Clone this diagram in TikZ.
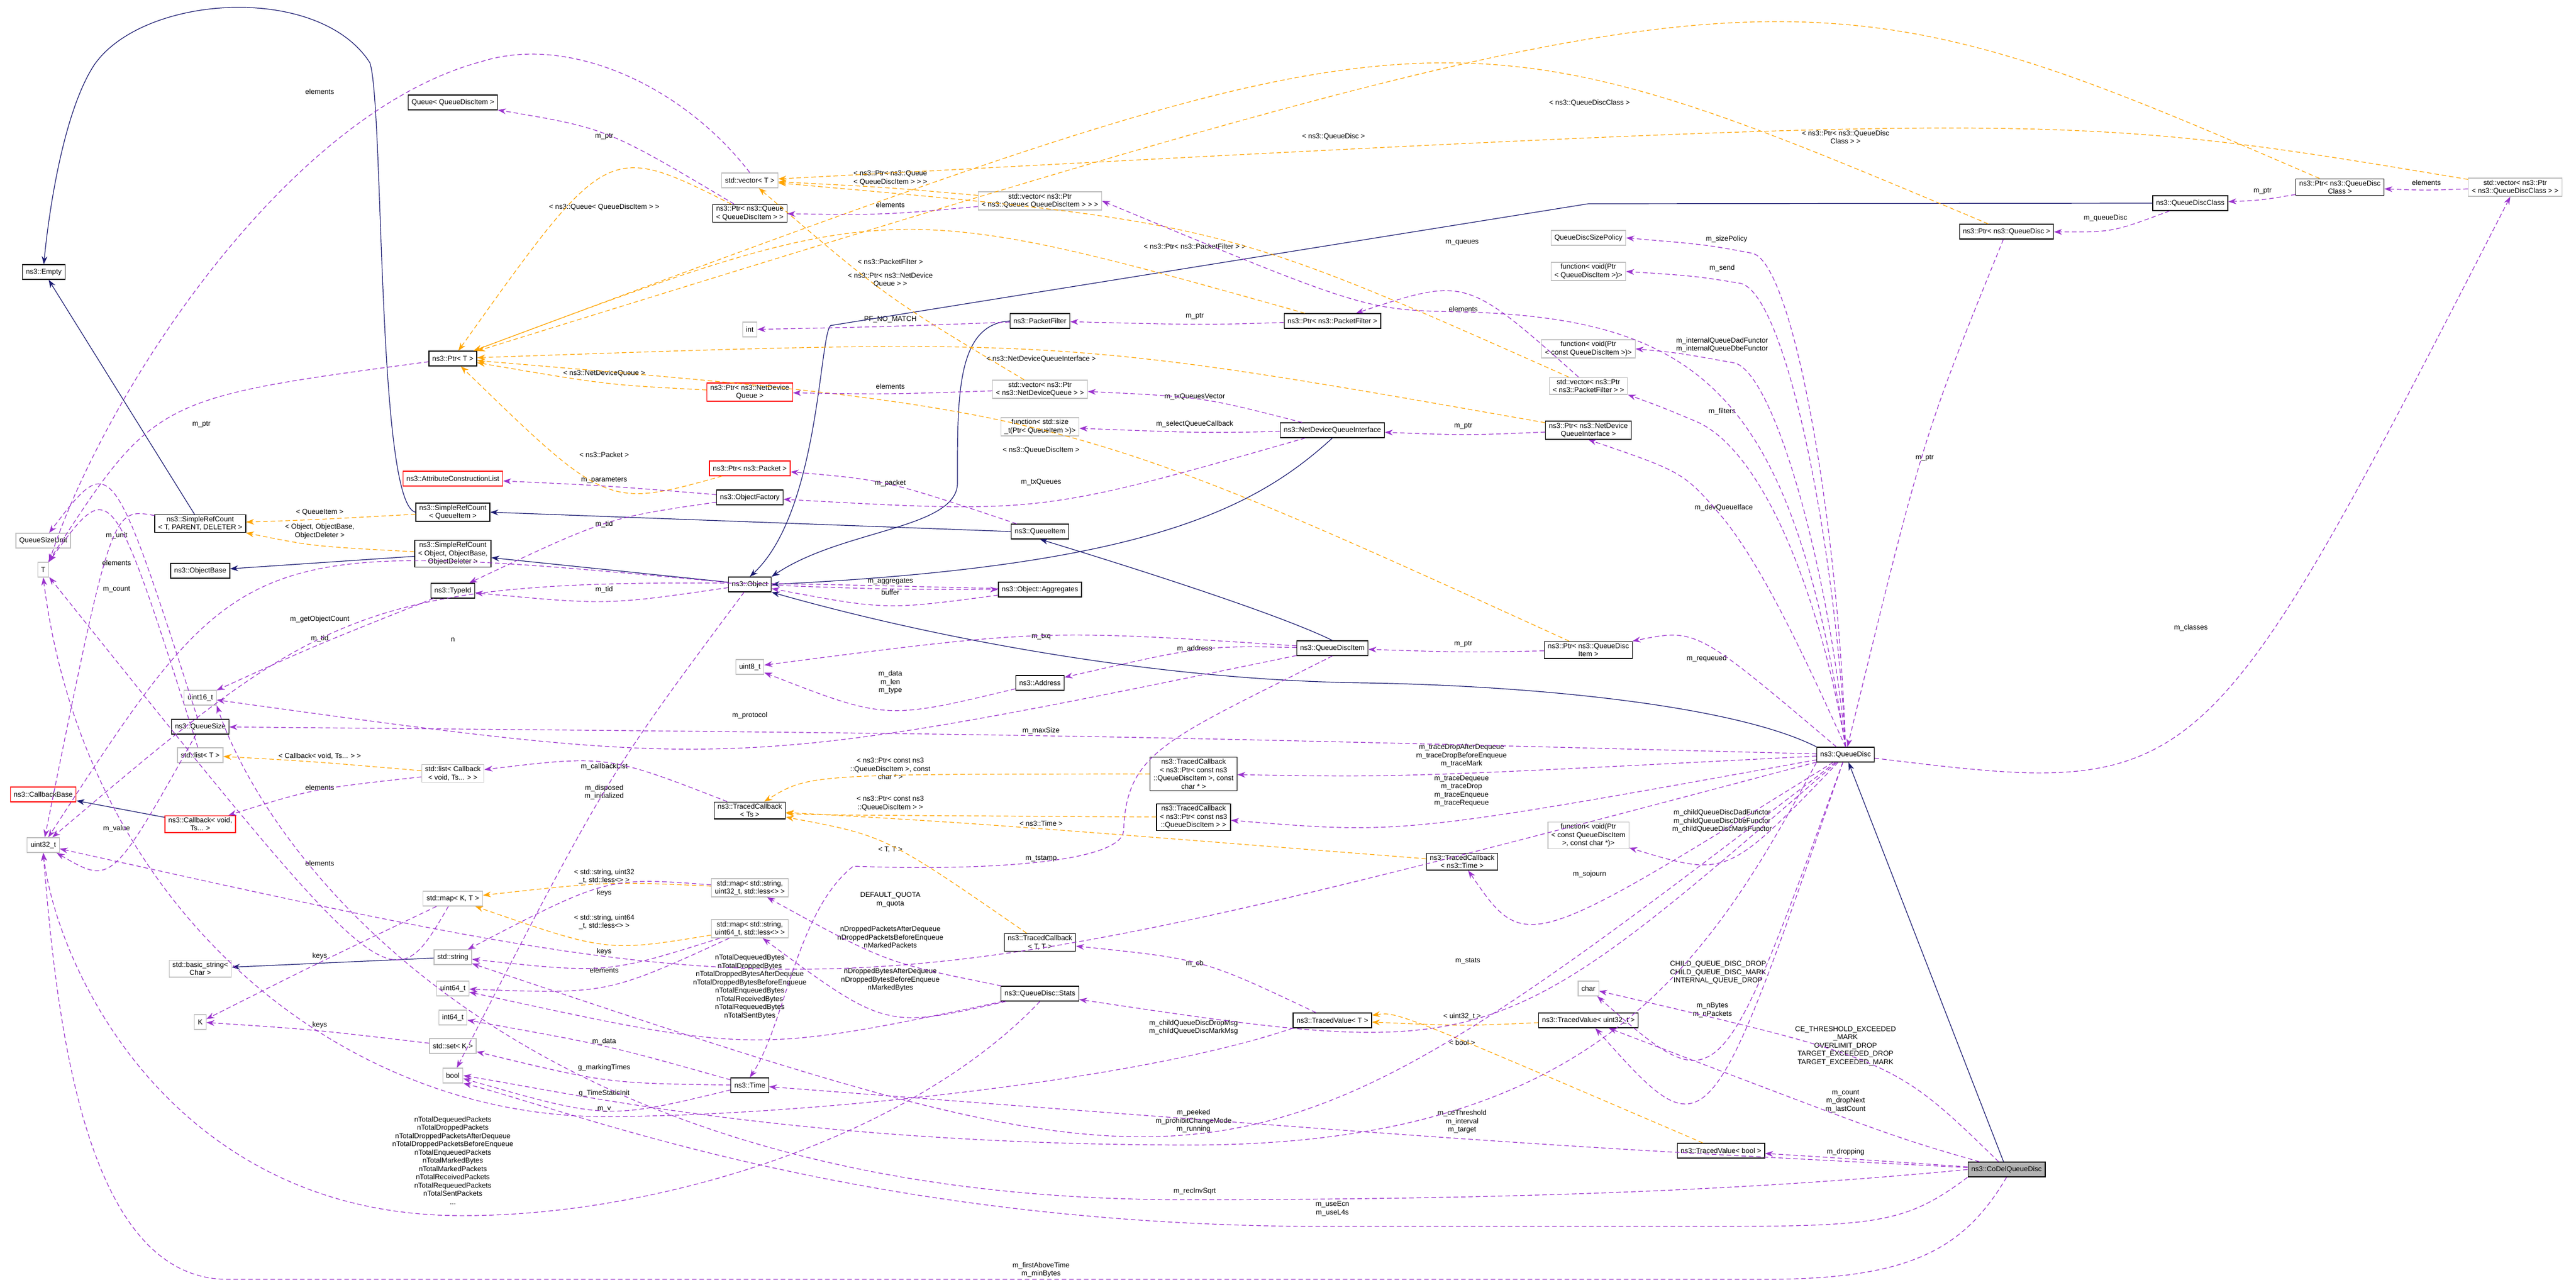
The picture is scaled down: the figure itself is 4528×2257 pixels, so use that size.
\documentclass[tikz,border=0pt]{standalone}
\usepackage{fontspec}
\setmainfont{Liberation Sans}
\usetikzlibrary{calc,arrows.meta}
\definecolor{mem}{RGB}{154,50,205}
\definecolor{tpl}{RGB}{255,165,0}
\definecolor{inhc}{RGB}{25,25,112}
\newcommand{\lk}[4][memb]{%
  \path (#3.south) ++(0,5) coordinate (tmpv);
  \draw[#1] (#2) .. controls ($2*(tmpv)-0.5*(#2)-0.5*(#4)$) .. (#4);}
\begin{document}
\begin{tikzpicture}[x=1pt,y=-1pt,
  every node/.style={font=\fontsize{12.5}{14.5}\selectfont},
  box/.style={draw=black,line width=1.3pt,fill=white,inner xsep=6pt,inner ysep=3pt,minimum height=26pt,align=center},
  gbox/.style={box,draw=black!25},
  rbox/.style={box,draw=red},
  lab/.style={align=center,inner sep=1pt},
  memb/.style={draw=mem,line width=1.2pt,dash pattern=on 8pt off 5pt,-{Stealth[length=14pt,width=10pt]}},
  tmpl/.style={draw=tpl,line width=1.2pt,dash pattern=on 8pt off 5pt,-{Stealth[length=14pt,width=10pt]}},
  inh/.style={draw=inhc,line width=1.2pt,-{Stealth[length=14pt,width=10pt]}}]
\useasboundingbox[fill=white] (0,0) rectangle (4528,2257);
% ---- nodes
\node[box] (empty) at (77,478) {ns3::Empty};
\node[box] (qqdi) at (796,180) {Queue< QueueDiscItem >};
\node[gbox] (vecT) at (1318,317) {std::vector< T >};
\node[box] (pqueue) at (1318,375) {ns3::Ptr< ns3::Queue\\< QueueDiscItem > >};
\node[gbox] (intn) at (1318,579) {int};
\node[box] (ptrT) at (796,630) {ns3::Ptr< T >};
\node[rbox] (pndq) at (1318,689) {ns3::Ptr< ns3::NetDevice\\Queue >};
\node[rbox] (ppkt) at (1318,823) {ns3::Ptr< ns3::Packet >};
\node[rbox] (acl) at (796,841) {ns3::AttributeConstructionList};
\node[box] (ofac) at (1318,874) {ns3::ObjectFactory};
\node[box] (srcqi) at (796,900) {ns3::SimpleRefCount\\< QueueItem >};
\node[box] (srctpd) at (352,920) {ns3::SimpleRefCount\\< T, PARENT, DELETER >};
\node[gbox] (qsu) at (76,950) {QueueSizeUnit};
\node[gbox] (Tn) at (76,1001) {T};
\node[box] (obase) at (352,1003) {ns3::ObjectBase};
\node[box] (srcobj) at (796,973) {ns3::SimpleRefCount\\< Object, ObjectBase,\\ObjectDeleter >};
\node[box] (tid) at (796,1038) {ns3::TypeId};
\node[box] (obj) at (1318,1027) {ns3::Object};
\node[gbox] (u8) at (1318,1172) {uint8\_t};
\node[gbox] (u16) at (352,1226) {uint16\_t};
\node[box] (qsize) at (352,1277) {ns3::QueueSize};
\node[gbox] (listT) at (352,1327) {std::list< T >};
\node[gbox] (listcb) at (796,1359) {std::list< Callback\\< void, Ts... > >};
\node[rbox] (cbbase) at (76,1396) {ns3::CallbackBase};
\node[rbox] (cb) at (352,1448) {ns3::Callback< void,\\Ts... >};
\node[gbox] (u32) at (76,1485) {uint32\_t};
\node[box] (tcts) at (1318,1424) {ns3::TracedCallback\\< Ts >};
\node[gbox] (mapKT) at (796,1579) {std::map< K, T >};
\node[gbox] (mapu32) at (1318,1560) {std::map< std::string,\\uint32\_t, std::less<> >};
\node[gbox] (mapu64) at (1318,1632) {std::map< std::string,\\uint64\_t, std::less<> >};
\node[gbox] (bstr) at (352,1702) {std::basic\_string<\\Char >};
\node[gbox] (str) at (796,1682) {std::string};
\node[gbox] (u64) at (796,1737) {uint64\_t};
\node[gbox] (K) at (352,1796) {K};
\node[gbox] (i64) at (796,1788) {int64\_t};
\node[gbox] (setK) at (796,1838) {std::set< K >};
\node[gbox] (booln) at (796,1890) {bool};
\node[box] (time) at (1318,1907) {ns3::Time};
\node[gbox] (vecpq) at (1828,353) {std::vector< ns3::Ptr\\< ns3::Queue< QueueDiscItem > > >};
\node[gbox] (qdsp) at (2792,418) {QueueDiscSizePolicy};
\node[gbox] (fnsend) at (2792,477) {function< void(Ptr\\< QueueDiscItem >)>};
\node[box] (pf) at (1828,564) {ns3::PacketFilter};
\node[box] (ppf) at (2342,564) {ns3::Ptr< ns3::PacketFilter >};
\node[gbox] (fnconst) at (2792,613) {function< void(Ptr\\< const QueueDiscItem >)>};
\node[gbox] (vecpf) at (2792,678) {std::vector< ns3::Ptr\\< ns3::PacketFilter > >};
\node[gbox] (vecndq) at (1828,684) {std::vector< ns3::Ptr\\< ns3::NetDeviceQueue > >};
\node[gbox] (fnsize) at (1828,750) {function< std::size\\\_t(Ptr< QueueItem >)>};
\node[box] (ndqi) at (2342,756) {ns3::NetDeviceQueueInterface};
\node[box] (pndqi) at (2792,756) {ns3::Ptr< ns3::NetDevice\\QueueInterface >};
\node[box] (qi) at (1828,934) {ns3::QueueItem};
\node[box] (aggr) at (1828,1036) {ns3::Object::Aggregates};
\node[box] (qdi) at (2342,1139) {ns3::QueueDiscItem};
\node[box] (pqdi) at (2792,1142) {ns3::Ptr< ns3::QueueDisc\\Item >};
\node[box] (addr) at (1828,1200) {ns3::Address};
\node[box] (tcpc) at (2098,1360) {ns3::TracedCallback\\< ns3::Ptr< const ns3\\::QueueDiscItem >, const\\char * >};
\node[box] (tcp) at (2098,1436) {ns3::TracedCallback\\< ns3::Ptr< const ns3\\::QueueDiscItem > >};
\node[gbox] (fnchar) at (2792,1468) {function< void(Ptr\\< const QueueDiscItem\\>, const char *)>};
\node[box] (tctime) at (2570,1514) {ns3::TracedCallback\\< ns3::Time >};
\node[box] (tctt) at (1828,1656) {ns3::TracedCallback\\< T, T >};
\node[box] (stats) at (1828,1746) {ns3::QueueDisc::Stats};
\node[gbox] (charn) at (2792,1737) {char};
\node[box] (tvT) at (2342,1793) {ns3::TracedValue< T >};
\node[box] (tvu32) at (2792,1793) {ns3::TracedValue< uint32\_t >};
\node[box] (tvbool) at (3025,2022) {ns3::TracedValue< bool >};
\node[box] (pqdc) at (4113,329) {ns3::Ptr< ns3::QueueDisc\\Class >};
\node[box] (qdc) at (3850,357) {ns3::QueueDiscClass};
\node[gbox] (vecqdc) at (4421,329) {std::vector< ns3::Ptr\\< ns3::QueueDiscClass > >};
\node[box] (pqd) at (3527,407) {ns3::Ptr< ns3::QueueDisc >};
\node[box] (qd) at (3244,1326) {ns3::QueueDisc};
\node[box,fill=black!30] (codel) at (3527,2055) {ns3::CoDelQueueDisc};
% ---- labels
\node[lab] (l1) at (562,161) {elements};
\node[lab] (l2) at (1062,240) {m\_ptr};
\node[lab] (l3) at (1565,360) {elements};
\node[lab] (l4) at (354,746) {m\_ptr};
\node[lab] (l5) at (1565,679) {elements};
\node[lab] (l6) at (1565,849) {m\_packet};
\node[lab] (l7) at (1062,844) {m\_parameters};
\node[lab] (l8) at (1830,847) {m\_txQueues};
\node[lab] (l9) at (1062,921) {m\_tid};
\node[lab] (l10) at (1062,1036) {m\_tid};
\node[lab] (l11) at (1565,1022) {m\_aggregates};
\node[lab] (l12) at (1565,1041) {buffer};
\node[lab] (l13) at (796,1124) {n};
\node[lab] (l14) at (562,1088) {m\_getObjectCount};
\node[lab] (l15) at (562,1122) {m\_tid};
\node[lab] (l16) at (1565,561) {PF\_NO\_MATCH};
\node[lab] (l17) at (2100,556) {m\_ptr};
\node[lab] (l18) at (2572,543) {elements};
\node[lab] (l19) at (2100,697) {m\_txQueuesVector};
\node[lab] (l20) at (2100,745) {m\_selectQueueCallback};
\node[lab] (l21) at (2572,749) {m\_ptr};
\node[lab] (l22) at (3035,420) {m\_sizePolicy};
\node[lab] (l23) at (3027,471) {m\_send};
\node[lab] (l24) at (3027,606) {m\_internalQueueDadFunctor\\m\_internalQueueDbeFunctor};
\node[lab] (l25) at (3027,723) {m\_filters};
\node[lab] (l26) at (2570,426) {m\_queues};
\node[lab] (l27) at (3030,892) {m\_devQueueIface};
\node[lab] (l28) at (3000,1157) {m\_requeued};
\node[lab] (l29) at (2572,1132) {m\_ptr};
\node[lab] (l30) at (1830,1119) {m\_txq};
\node[lab] (l31) at (2100,1140) {m\_address};
\node[lab] (l32) at (1565,1199) {m\_data\\m\_len\\m\_type};
\node[lab] (l33) at (1318,1257) {m\_protocol};
\node[lab] (l34) at (1830,1509) {m\_tstamp};
\node[lab] (l35) at (1830,1284) {m\_maxSize};
\node[lab] (l36) at (205,941) {m\_unit};
\node[lab] (l37) at (205,1456) {m\_value};
\node[lab] (l38) at (205,1036) {m\_count};
\node[lab] (l39) at (205,989) {elements};
\node[lab] (l40) at (562,1384) {elements};
\node[lab] (l41) at (1062,1347) {m\_callbackList};
\node[lab] (l42) at (1062,1392) {m\_disposed\\m\_initialized};
\node[lab] (l43) at (562,1517) {elements};
\node[lab] (l44) at (562,1680) {keys};
\node[lab] (l45) at (562,1801) {keys};
\node[lab] (l46) at (1062,1569) {keys};
\node[lab] (l47) at (1062,1672) {keys};
\node[lab] (l48) at (1062,1705) {elements};
\node[lab] (l49) at (1318,1734) {nTotalDequeuedBytes\\nTotalDroppedBytes\\nTotalDroppedBytesAfterDequeue\\nTotalDroppedBytesBeforeEnqueue\\nTotalEnqueuedBytes\\nTotalReceivedBytes\\nTotalRequeuedBytes\\nTotalSentBytes};
\node[lab] (l50) at (796,2039) {nTotalDequeuedPackets\\nTotalDroppedPackets\\nTotalDroppedPacketsAfterDequeue\\nTotalDroppedPacketsBeforeEnqueue\\nTotalEnqueuedPackets\\nTotalMarkedBytes\\nTotalMarkedPackets\\nTotalReceivedPackets\\nTotalRequeuedPackets\\nTotalSentPackets\\...};
\node[lab] (l51) at (1565,1647) {nDroppedPacketsAfterDequeue\\nDroppedPacketsBeforeEnqueue\\nMarkedPackets};
\node[lab] (l52) at (1565,1722) {nDroppedBytesAfterDequeue\\nDroppedBytesBeforeEnqueue\\nMarkedBytes};
\node[lab] (l53) at (2580,1689) {m\_stats};
\node[lab] (l54) at (1565,1581) {DEFAULT\_QUOTA\\m\_quota};
\node[lab] (l55) at (2569,1328) {m\_traceDropAfterDequeue\\m\_traceDropBeforeEnqueue\\m\_traceMark};
\node[lab] (l56) at (2569,1390) {m\_traceDequeue\\m\_traceDrop\\m\_traceEnqueue\\m\_traceRequeue};
\node[lab] (l57) at (3027,1443) {m\_childQueueDiscDadFunctor\\m\_childQueueDiscDbeFunctor\\m\_childQueueDiscMarkFunctor};
\node[lab] (l58) at (2794,1536) {m\_sojourn};
\node[lab] (l59) at (3020,1709) {CHILD\_QUEUE\_DISC\_DROP\\CHILD\_QUEUE\_DISC\_MARK\\INTERNAL\_QUEUE\_DROP};
\node[lab] (l60) at (3010,1775) {m\_nBytes\\m\_nPackets};
\node[lab] (l61) at (2098,1805) {m\_childQueueDiscDropMsg\\m\_childQueueDiscMarkMsg};
\node[lab] (l62) at (2098,1970) {m\_peeked\\m\_prohibitChangeMode\\m\_running};
\node[lab] (l63) at (3383,805) {m\_ptr};
\node[lab] (l64) at (3701,383) {m\_queueDisc};
\node[lab] (l65) at (3977,336) {m\_ptr};
\node[lab] (l66) at (4265,321) {elements};
\node[lab] (l67) at (3851,1103) {m\_classes};
\node[lab] (l68) at (2100,1693) {m\_cb};
\node[lab] (l69) at (1062,1949) {m\_v};
\node[lab] (l70) at (1062,1830) {m\_data};
\node[lab] (l71) at (1062,1876) {g\_markingTimes};
\node[lab] (l72) at (1062,1921) {g\_TimeStaticInit};
\node[lab] (l73) at (2570,1971) {m\_ceThreshold\\m\_interval\\m\_target};
\node[lab] (l74) at (3244,1935) {m\_count\\m\_dropNext\\m\_lastCount};
\node[lab] (l75) at (3244,1838) {CE\_THRESHOLD\_EXCEEDED\\\_MARK\\OVERLIMIT\_DROP\\TARGET\_EXCEEDED\_DROP\\TARGET\_EXCEEDED\_MARK};
\node[lab] (l76) at (3244,2024) {m\_dropping};
\node[lab] (l77) at (2100,2093) {m\_recInvSqrt};
\node[lab] (l78) at (2342,2124) {m\_useEcn\\m\_useL4s};
\node[lab] (l79) at (1830,2231) {m\_firstAboveTime\\m\_minBytes};
% template labels
\node[lab] (t1) at (1062,364) {< ns3::Queue< QueueDiscItem > >};
\node[lab] (t2) at (1062,656) {< ns3::NetDeviceQueue >};
\node[lab] (t3) at (1062,799) {< ns3::Packet >};
\node[lab] (t4) at (1565,460) {< ns3::PacketFilter >};
\node[lab] (t5) at (1830,631) {< ns3::NetDeviceQueueInterface >};
\node[lab] (t6) at (1830,791) {< ns3::QueueDiscItem >};
\node[lab] (t7) at (2344,240) {< ns3::QueueDisc >};
\node[lab] (t8) at (2794,181) {< ns3::QueueDiscClass >};
\node[lab] (t9) at (1565,313) {< ns3::Ptr< ns3::Queue\\< QueueDiscItem > > >};
\node[lab] (t10) at (1565,492) {< ns3::Ptr< ns3::NetDevice\\Queue > >};
\node[lab] (t11) at (2100,433) {< ns3::Ptr< ns3::PacketFilter > >};
\node[lab] (t12) at (3244,241) {< ns3::Ptr< ns3::QueueDisc\\Class > >};
\node[lab] (t13) at (562,900) {< QueueItem >};
\node[lab] (t14) at (562,934) {< Object, ObjectBase,\\ObjectDeleter >};
\node[lab] (t15) at (562,1329) {< Callback< void, Ts... > >};
\node[lab] (t16) at (1062,1540) {< std::string, uint32\\\_t, std::less<> >};
\node[lab] (t17) at (1062,1620) {< std::string, uint64\\\_t, std::less<> >};
\node[lab] (t18) at (1565,1351) {< ns3::Ptr< const ns3\\::QueueDiscItem >, const\\char * >};
\node[lab] (t19) at (1565,1412) {< ns3::Ptr< const ns3\\::QueueDiscItem > >};
\node[lab] (t20) at (1830,1447) {< ns3::Time >};
\node[lab] (t21) at (1565,1493) {< T, T >};
\node[lab] (t22) at (2570,1786) {< uint32\_t >};
\node[lab] (t23) at (2570,1832) {< bool >};
% ---- inheritance
\draw[inh] (srctpd) -- (empty);
\draw[inh] (srcqi.west) .. controls (662,885) and (675,180) .. (650,110) .. controls (560,-30) and (250,-10) .. (165,115) .. controls (110,200) and (85,380) .. (empty.north);
\draw[inh] (srcobj) -- (obase);
\draw[inh] (obj) -- (srcobj);
\draw[inh] (qi.west) -- (srcqi.east);
\draw[inh] (qdc.west) -- (2792,358) -- (1460,572) .. controls (1440,590) and (1440,900) .. (obj.north);
\draw[inh] (pf.west) .. controls (1680,570) and (1683,700) .. (1683,850) .. controls (1680,930) and (1480,930) .. (obj.north east);
\draw[inh] (ndqi.south) .. controls (2200,900) and (2000,995) .. (obj.east);
\draw[inh] (qdi.north) .. controls (2250,1080) and (2000,1000) .. (qi.south);
\draw[inh] (qd.north west) .. controls (3050,1240) and (2700,1205) .. (2400,1200) .. controls (2000,1195) and (1600,1110) .. (obj.south east);
\draw[inh] (codel) -- (qd);
\draw[inh] (cb) -- (cbbase);
\draw[inh] (str) -- (bstr);
% ---- templates
\lk[tmpl]{pqueue}{t1}{ptrT}
\lk[tmpl]{pndq}{t2}{ptrT}
\lk[tmpl]{ppkt}{t3}{ptrT}
\lk[tmpl]{ppf}{t4}{ptrT}
\lk[tmpl]{pndqi}{t5}{ptrT}
\lk[tmpl]{pqdi}{t6}{ptrT}
\lk[tmpl]{pqd}{t7}{ptrT}
\lk[tmpl]{pqdc}{t8}{ptrT}
\lk[tmpl]{vecpq}{t9}{vecT}
\lk[tmpl]{vecndq}{t10}{vecT}
\lk[tmpl]{vecpf}{t11}{vecT}
\lk[tmpl]{vecqdc}{t12}{vecT}
\lk[tmpl]{srcqi}{t13}{srctpd}
\lk[tmpl]{srcobj}{t14}{srctpd}
\lk[tmpl]{listcb}{t15}{listT}
\lk[tmpl]{mapu32}{t16}{mapKT}
\lk[tmpl]{mapu64}{t17}{mapKT}
\lk[tmpl]{tcpc}{t18}{tcts}
\lk[tmpl]{tcp}{t19}{tcts}
\lk[tmpl]{tctime}{t20}{tcts}
\lk[tmpl]{tctt}{t21}{tcts}
\lk[tmpl]{tvu32}{t22}{tvT}
\lk[tmpl]{tvbool}{t23}{tvT}
% ---- members
\draw[memb] (vecT.north) .. controls (1200,150) and (1000,60) .. (847,108) .. controls (500,200) and (180,700) .. (Tn.north east);
\lk{pqueue}{l2}{qqdi}
\lk{vecpq}{l3}{pqueue}
\lk{ptrT}{l4}{Tn}
\lk{vecndq}{l5}{pndq}
\lk{qi}{l6}{ppkt}
\lk{ofac}{l7}{acl}
\lk{ndqi}{l8}{ofac}
\lk{ofac}{l9}{tid}
\lk{obj}{l10}{tid}
\lk{obj}{l11}{aggr}
\lk{aggr}{l12}{obj}
\lk{aggr}{l13}{u32}
\lk{obj}{l14}{u32}
\lk{tid}{l15}{u16}
\lk{pf}{l16}{intn}
\lk{ppf}{l17}{pf}
\lk{vecpf}{l18}{ppf}
\lk{ndqi}{l19}{vecndq}
\lk{ndqi}{l20}{fnsize}
\lk{pndqi}{l21}{ndqi}
\draw[memb] (qd.north) .. controls (3230,900) and (3150,460) .. (3080,445) .. controls (3000,430) .. (qdsp.east);
\draw[memb] (qd.north) .. controls (3225,950) and (3140,520) .. (3060,498) .. controls (2980,485) .. (fnsend.east);
\draw[memb] (qd.north) .. controls (3215,1000) and (3120,660) .. (3050,638) .. controls (2950,620) .. (fnconst.east);
\draw[memb] (qd.north) .. controls (3200,1050) and (3100,790) .. (2980,740) .. controls (2920,715) .. (vecpf.south east);
\draw[memb] (qd.north) .. controls (3170,1150) and (3100,1000) .. (3030,912) .. controls (2960,830) .. (pndqi.south);
\draw[memb] (qd.north) .. controls (3150,700) and (3000,560) .. (2570,548) .. controls (2400,545) .. (vecpq.east);
\lk{qd}{l28}{pqdi}
\lk{pqdi}{l29}{qdi}
\lk{qdi}{l30}{u8}
\lk{qdi}{l31}{addr}
\lk{addr}{l32}{u8}
\lk{qdi}{l33}{u16}
\draw[memb] (qdi.south) .. controls (2050,1300) and (1980,1320) .. (1975,1460) .. controls (1970,1520) and (1700,1530) .. (1500,1522) .. controls (1400,1600) and (1380,1800) .. (time.north);
\lk{qd}{l35}{qsize}
\lk{qsize}{l36}{qsu}
\lk{qsize}{l37}{u32}
\lk{srctpd}{l38}{u32}
\lk{listT}{l39}{Tn}
\lk{listcb}{l40}{cb}
\lk{tcts}{l41}{listcb}
\lk{obj}{l42}{booln}
\lk{mapKT}{l43}{Tn}
\lk{mapKT}{l44}{K}
\lk{setK}{l45}{K}
\lk{mapu32}{l46}{str}
\lk{mapu64}{l47}{str}
\lk{mapu64}{l48}{u64}
\lk{stats}{l49}{u64}
\draw[memb] (stats.south) .. controls (1600,2000) and (1150,2140) .. (800,2136) .. controls (300,2130) and (100,1700) .. (u32.south);
\lk{stats}{l51}{mapu32}
\lk{stats}{l52}{mapu64}
\lk{qd}{l53}{stats}
\lk{qd}{l54}{u32}
\lk{qd}{l55}{tcpc}
\lk{qd}{l56}{tcp}
\lk{qd}{l57}{fnchar}
\lk{qd}{l58}{tctime}
\lk{qd}{l59}{charn}
\lk{qd}{l60}{tvu32}
\lk{qd}{l61}{str}
\draw[memb] (qd.south west) .. controls (3000,1700) and (2800,2010) .. (2098,2012) .. controls (1400,2012) and (1000,1920) .. (booln.east);
\lk{pqd}{l63}{qd}
\lk{qdc}{l64}{pqd}
\lk{pqdc}{l65}{qdc}
\lk{vecqdc}{l66}{pqdc}
\lk{qd}{l67}{vecqdc}
\lk{tvT}{l68}{tctt}
\draw[memb] (tvT.south west) .. controls (2000,1900) and (1400,1962) .. (1062,1962) .. controls (600,1962) and (150,1600) .. (Tn.south);
\lk{time}{l70}{i64}
\lk{time}{l71}{setK}
\lk{time}{l72}{booln}
\lk{codel}{l73}{time}
\lk{codel}{l74}{tvu32}
\lk{codel}{l75}{charn}
\lk{codel}{l76}{tvbool}
\draw[memb] (codel.west) .. controls (3200,2080) and (2800,2108) .. (2100,2108) .. controls (900,2115) and (470,1500) .. (u16.south east);
\draw[memb] (codel.south west) .. controls (3350,2150) and (3300,2155) .. (3000,2155) -- (2300,2155) .. controls (1500,2150) and (1000,1950) .. (booln.south east);
\draw[memb] (codel.south) .. controls (3450,2200) and (3350,2248) .. (3100,2248) -- (400,2248) .. controls (150,2248) and (100,1800) .. (u32.south);
\end{tikzpicture}
\end{document}
